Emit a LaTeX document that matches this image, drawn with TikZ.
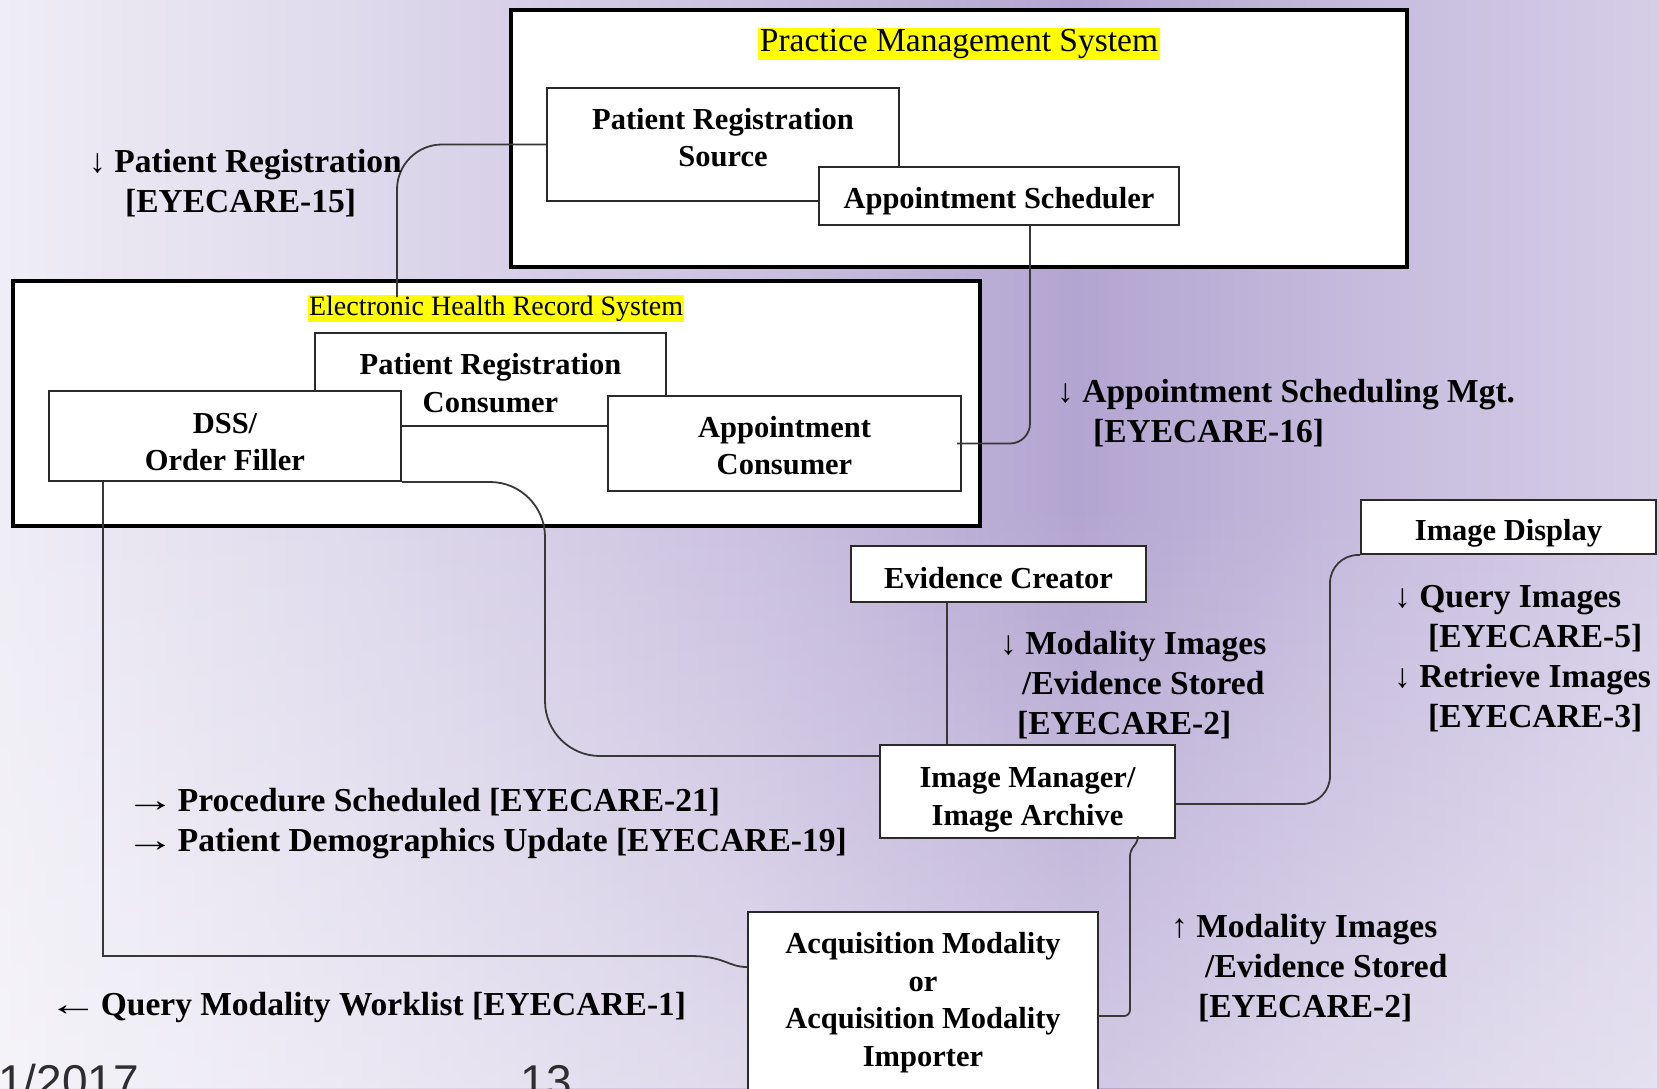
\documentclass[tikz,border=0pt]{standalone}
\usepackage{fontspec}
\setmainfont{Liberation Serif}
\newfontfamily\footfont{Liberation Sans}
\usetikzlibrary{fadings}

\definecolor{bgA}{HTML}{EFEDF5}
\definecolor{bgB}{HTML}{E0DBED}
\definecolor{bgC}{HTML}{CBC1E0}
\definecolor{bgD}{HTML}{B3A5D1}
\definecolor{bgE}{HTML}{C4B9DC}
\definecolor{bgF}{HTML}{D6CEE7}
\definecolor{boxline}{HTML}{2A2A2A}
\definecolor{wire}{HTML}{383838}
\definecolor{marker}{HTML}{FFFF00}
\definecolor{footgray}{HTML}{2E2E2E}

\pgfdeclarehorizontalshading{slidebg}{100bp}{color(0bp)=(bgA); color(25bp)=(bgA); color(35bp)=(bgB); color(47.5bp)=(bgC); color(57.5bp)=(bgD); color(65bp)=(bgE); color(75bp)=(bgF); color(100bp)=(bgF)}

\newcommand{\boxfont}{\bfseries\fontsize{30.5}{37.5}\selectfont}
\newcommand{\msgfont}{\bfseries\fontsize{33.5}{40}\selectfont}
\newcommand{\wideto}{\hspace*{-6pt}\scalebox{1.5}[1]{→}\hspace{-6pt}}
\newcommand{\widefrom}{\hspace*{-6pt}\scalebox{1.5}[1]{←}\hspace{-6pt}}

\tikzstyle{system} = [rectangle, draw=black, line width=3.5pt, fill=white]
\tikzstyle{syslabel} = [fill=marker, inner sep=1.5pt]
\tikzstyle{actor} = [rectangle, draw=boxline, line width=2pt, fill=white, align=center, font=\boxfont, inner sep=0pt, text depth=0pt]
\tikzstyle{msg} = [align=left, anchor=north west, inner sep=0pt, font=\msgfont]
\tikzstyle{conn} = [draw=wire, line width=1.8pt]

\begin{document}
\begin{tikzpicture}[x=1pt,y=-1pt]

\useasboundingbox (0,0) rectangle (1659,1088);
\clip (0,0) rectangle (1659,1088);
\shade [shading=slidebg] (0,0) rectangle (1659,1088);
\fill [white, opacity=0.4, path fading=north] (0,500) rectangle (1659,1088);

% systems
\node (pms) [system, minimum width=896pt, minimum height=257pt] at (959,138.5) {};
\node (ehr) [system, minimum width=967pt, minimum height=245pt] at (496.5,403.5) {};
\node (pmslbl) [syslabel, font=\fontsize{33.5}{40}\selectfont] at (959,44) {Practice Management System};
\node (ehrlbl) [syslabel, inner sep=1pt, font=\fontsize{28}{32}\selectfont] at (496,308.5) {Electronic Health Record System};

% actors
\node (prs) [actor, minimum width=352pt, minimum height=113pt, text height=44.3pt] at (723,144.5) {Patient Registration\\Source};
\node (as) [actor, minimum width=360pt, minimum height=58pt, text height=25.3pt] at (999,196) {Appointment Scheduler};

\node (prc) [actor, minimum width=351pt, minimum height=93pt, text height=65pt] at (490.5,379.5) {Patient Registration\\Consumer};
\node (dss) [actor, minimum width=352pt, minimum height=90pt, text height=69.3pt] at (225,436) {DSS/\\Order Filler};
\node (ac) [actor, minimum width=353pt, minimum height=95pt, text height=62.6pt] at (784.5,443.5) {Appointment\\Consumer};

\node (ec) [actor, minimum width=295pt, minimum height=56pt, text height=29.3pt] at (998.5,574) {Evidence Creator};
\node (id) [actor, minimum width=295pt, minimum height=54pt, text height=26.5pt] at (1508.5,527) {Image Display};
\node (im) [actor, minimum width=295pt, minimum height=93pt, text height=67pt] at (1027.5,791.5) {Image Manager/\\Image Archive};
\node (am) [actor, minimum width=350pt, minimum height=180pt, text height=128pt] at (923,1002) {Acquisition Modality\\or\\Acquisition Modality\\Importer};

% transactions
\coordinate (prreg-end) at (397,297);
\draw [conn, rounded corners=45pt] (prs.west) -| (prreg-end);

\draw [conn, rounded corners=20pt] ([xshift=31pt]as.south) |- ([xshift=-5pt]ac.east);

\coordinate (ps-bend) at (545,600);
\draw [conn, rounded corners=55pt] (dss.south east) -| (ps-bend) |- ([yshift=35.5pt]im.west);

\coordinate (ms-top) at ([xshift=-51.5pt]ec.south);
\draw [conn] (ms-top) -- (ms-top |- im.north);

\coordinate (qr-bend) at (1330,680);
\draw [conn, rounded corners=28pt] ([yshift=-12.5pt]im.east) -| (qr-bend) |- (id.south west);

\coordinate (ms-low) at ([xshift=-38pt]im.south east);
\draw [conn, rounded corners=6pt] (ms-low) -- ++(0,3) -- ++(-8,8) |- ([yshift=-14pt]am.east);

\coordinate (mwl-top) at ([xshift=55pt]dss.south west);
\coordinate (mwl-bend) at (690,956);
\draw [conn] (mwl-top) |- (mwl-bend) .. controls (725,956) and (728,967) .. ([yshift=35pt]am.west);

% transaction labels
\node (prreg-msg) [msg] at (89,149) {↓ Patient Registration\\\hspace*{36pt}[EYECARE-15]};
\node (asm-msg) [msg] at (1057,379) {↓ Appointment Scheduling Mgt.\\\hspace*{36pt}[EYECARE-16]};
\node (ec-msg) [msg] at (1000,631) {↓ Modality Images\\\hspace*{22pt}/Evidence Stored\\\hspace*{17pt}[EYECARE-2]};
\node (id-msg) [msg] at (1394,585) {↓ Query Images\\\hspace*{34pt}[EYECARE-5]\\↓ Retrieve Images\\\hspace*{34pt}[EYECARE-3]};
\node (am-msg) [msg] at (1171,914) {↑ Modality Images\\\hspace*{34pt}/Evidence Stored\\\hspace*{27pt}[EYECARE-2]};
\node (dss-msg) [msg] at (131,788) {\wideto{} Procedure Scheduled [EYECARE-21]\\\wideto{} Patient Demographics Update [EYECARE-19]};
\node (mwl-msg) [msg] at (54,992) {\widefrom{} Query Modality Worklist [EYECARE-1]};

% slide footer
\node (date) [anchor=base east, inner sep=0pt, text=footgray, font=\footfont\fontsize{46}{50}\selectfont] at (139,1097) {1/2017};
\node (page) [anchor=base, inner sep=0pt, text=footgray, font=\footfont\fontsize{46}{50}\selectfont] at (546.5,1097) {13};

\end{tikzpicture}
\end{document}
